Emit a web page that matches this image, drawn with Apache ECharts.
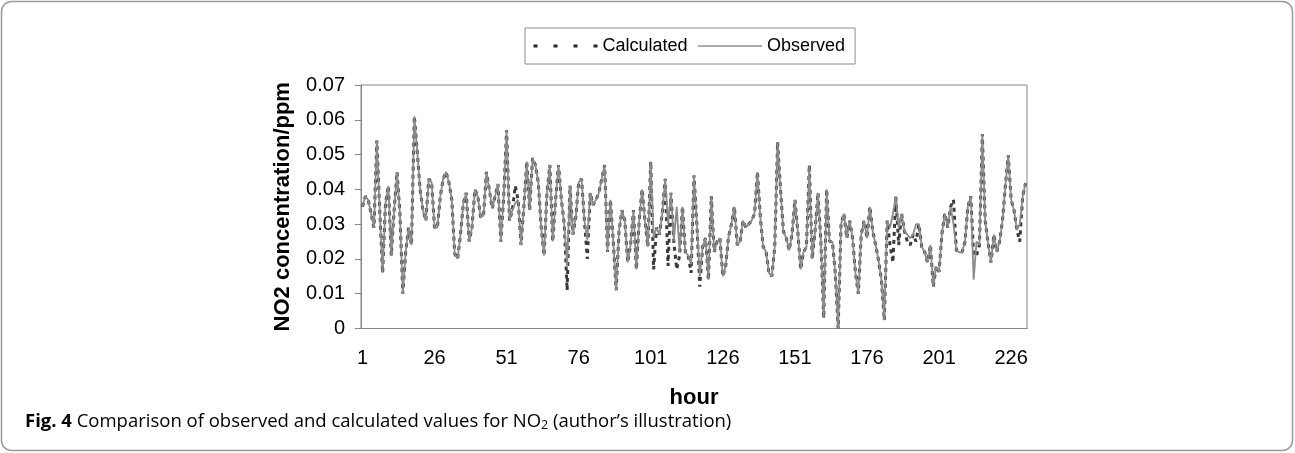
<!DOCTYPE html>
<html>
<head>
<meta charset="utf-8">
<script src="https://cdn.jsdelivr.net/npm/echarts@6/dist/echarts.min.js"></script>
<style>
html,body{margin:0;padding:0;background:#fff;}
#chart{width:1295px;height:453px;}
</style>
</head>
<body>
<div id="chart"></div>
<script>
// Observed NO2 concentration (ppm), hours 1..231
const observed = [
.035,.038,.037,.033,.029,.054,.034,.016,.036,.041,
.021,.034,.045,.033,.010,.022,.029,.024,.061,.051,
.040,.034,.031,.043,.042,.029,.029,.038,.043,.045,
.042,.037,.0215,.020,.027,.036,.039,.025,.029,.040,
.038,.032,.0325,.045,.040,.0345,.038,.0415,.025,.038,
.057,.031,.034,.036,.037,.024,.035,.048,.034,.049,
.047,.042,.029,.021,.039,.047,.025,.037,.047,.037,
.030,.018,.041,.027,.032,.042,.043,.031,.0255,.039,
.0355,.037,.039,.043,.047,.022,.037,.025,.011,.028,
.034,.031,.019,.024,.034,.017,.031,.040,.031,.0235,
.048,.026,.029,.027,.033,.043,.030,.039,.025,.035,
.022,.035,.022,.021,.0185,.044,.030,.015,.0235,.026,
.014,.038,.022,.025,.026,.015,.018,.0265,.030,.035,
.024,.025,.031,.029,.030,.031,.033,.045,.032,.0235,
.022,.016,.015,.0235,.0536,.040,.028,.026,.0225,.027,
.037,.028,.017,.022,.0235,.047,.020,.028,.039,.025,
.003,.040,.025,.025,.016,.000,.030,.033,.026,.031,
.026,.016,.010,.027,.031,.026,.035,.028,.024,.0196,
.014,.0024,.031,.029,.033,.038,.029,.033,.028,.027,
.026,.027,.030,.030,.0235,.022,.019,.024,.012,.0178,
.0163,.0273,.0331,.029,.035,.030,.0225,.0219,.022,.025,
.035,.038,.014,.025,.024,.0559,.031,.0245,.019,.027,
.022,.025,.031,.041,.0498,.037,.034,.0283,.030,.038,
.0418
];
// Calculated NO2 concentration (ppm), hours 1..231
const calculated = [
.035,.038,.037,.033,.029,.054,.034,.016,.036,.041,
.021,.034,.045,.033,.010,.022,.029,.024,.061,.051,
.040,.034,.031,.043,.042,.029,.029,.038,.043,.045,
.042,.037,.0215,.020,.027,.036,.039,.025,.029,.040,
.038,.032,.0325,.045,.040,.0345,.038,.0415,.025,.038,
.057,.031,.034,.041,.037,.024,.035,.048,.034,.049,
.047,.042,.029,.021,.039,.047,.025,.037,.047,.037,
.030,.011,.041,.027,.032,.042,.043,.031,.020,.039,
.0355,.037,.039,.043,.047,.022,.037,.025,.011,.028,
.034,.031,.019,.024,.034,.017,.031,.040,.031,.0235,
.048,.017,.029,.027,.033,.043,.018,.039,.025,.017,
.021,.035,.022,.021,.016,.044,.030,.012,.0235,.026,
.014,.038,.022,.025,.026,.015,.018,.0265,.030,.035,
.024,.025,.031,.029,.030,.031,.033,.045,.032,.0235,
.022,.016,.015,.0235,.0536,.040,.028,.026,.0225,.027,
.037,.028,.017,.022,.0235,.047,.020,.028,.039,.025,
.003,.040,.025,.025,.016,.000,.030,.033,.026,.031,
.026,.016,.010,.027,.031,.026,.035,.028,.024,.0196,
.014,.0024,.031,.024,.019,.038,.024,.033,.028,.025,
.024,.027,.025,.030,.0235,.022,.019,.024,.012,.0178,
.0163,.0273,.0331,.029,.035,.037,.0225,.0219,.022,.025,
.035,.038,.021,.021,.024,.0559,.031,.0245,.019,.027,
.022,.025,.031,.041,.0498,.037,.034,.0283,.025,.038,
.0418
];
const hours = observed.map((_, i) => String(i + 1));
const yMin = 0, yMax = 0.07, yStep = 0.01;
const seriesNames = ['Calculated', 'Observed'];
const xName = 'hour';
const yName = 'NO2 concentration/ppm';
const captionBold = 'Fig. 4';
const captionText = ' Comparison of observed and calculated values for NO';
const captionSub = '2';
const captionTail = ' (author\u2019s illustration)';

const FONT = "'Liberation Sans', Arial, sans-serif";
const CAP_FONT = "'Open Sans', 'Noto Sans', sans-serif";
const AX = '#868686';
const chart = echarts.init(document.getElementById('chart'), null, {renderer: 'canvas'});
chart.setOption({
  animation: false,
  backgroundColor: '#fff',
  textStyle: {fontFamily: FONT},
  grid: {left: 361, right: 268, top: 85, bottom: 124.5, show: true, borderColor: AX, borderWidth: 1, backgroundColor: 'transparent'},
  legend: {
    left: 525, top: 28,
    padding: [9, 10, 9, 7],
    itemGap: 10, itemWidth: 64, itemHeight: 14,
    borderColor: '#8c8c8c', borderWidth: 1,
    textStyle: {fontSize: 18, color: '#000', fontFamily: FONT},
    itemStyle: {opacity: 0, borderWidth: 0},
    data: [
      {name: seriesNames[0], itemStyle: {opacity: 0, borderWidth: 0}, lineStyle: {type: [4, 16], width: 3, color: '#262626'}},
      {name: seriesNames[1], itemStyle: {opacity: 0, borderWidth: 0}, lineStyle: {width: 1, color: '#555'}}
    ]
  },
  xAxis: {
    type: 'category', data: hours, boundaryGap: true,
    axisLine: {lineStyle: {color: AX, width: 1}},
    axisTick: {interval: 4, length: 6, lineStyle: {color: AX}},
    axisLabel: {interval: 24, margin: 20, fontSize: 20, color: '#000', fontFamily: FONT},
    splitLine: {show: false},
    name: xName, nameLocation: 'middle', nameGap: 58,
    nameTextStyle: {fontSize: 22, fontWeight: 'bold', color: '#000', fontFamily: FONT}
  },
  yAxis: {
    type: 'value', min: yMin, max: yMax, interval: yStep,
    axisLine: {show: true, lineStyle: {color: AX, width: 1}},
    axisTick: {show: true, length: 6, lineStyle: {color: AX}},
    axisLabel: {margin: 16, fontSize: 20, color: '#000', fontFamily: FONT,
      formatter: v => (Math.abs(v) < 1e-9 ? '0' : (+v.toFixed(2)).toString())},
    splitLine: {show: false},
    name: yName, nameLocation: 'middle', nameGap: 67, nameRotate: 90,
    nameTextStyle: {fontSize: 22, fontWeight: 'bold', color: '#000', fontFamily: FONT}
  },
  series: [
    {name: seriesNames[0], type: 'line', data: calculated, symbol: 'none', showSymbol: false,
     lineStyle: {color: '#3a3a3a', width: 3, type: [4, 4]}, itemStyle: {color: '#3a3a3a'}, z: 2},
    {name: seriesNames[1], type: 'line', data: observed, symbol: 'none', showSymbol: false,
     lineStyle: {color: '#8a8a8a', width: 1.8}, itemStyle: {color: '#8a8a8a'}, z: 3}
  ],
  graphic: [
    {type: 'rect', silent: true, shape: {x: 1.5, y: 1.5, width: 1291, height: 449, r: 10},
     style: {fill: 'none', stroke: '#9a9a9a', lineWidth: 1.5}},
    {type: 'text', left: 25, top: 412, silent: true,
     style: {
       text: '{b|' + captionBold + '}{n|' + captionText + '}{s|' + captionSub + '}{n|' + captionTail + '}',
       rich: {
         b: {fontSize: 18.5, fontWeight: 'bold', fontFamily: CAP_FONT, fill: '#000'},
         n: {fontSize: 18.5, fontFamily: CAP_FONT, fill: '#000'},
         s: {fontSize: 12.5, fontFamily: CAP_FONT, fill: '#000', padding: [8, 0, 0, 0]}
       }
     }}
  ]
});
</script>
</body>
</html>
